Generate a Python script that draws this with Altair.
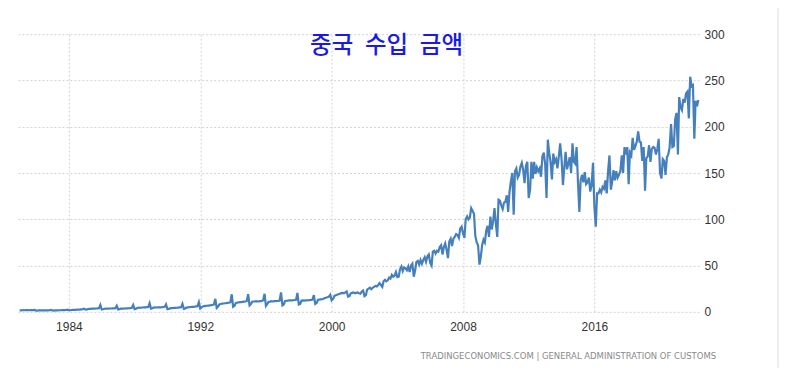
import altair as alt
import pandas as pd

# ---- data (China monthly imports, USD billion), Jan 1981 .. May 2022 ----
start_month = "1981-01-01"
monthly_imports = [
    # 1981
    1.6, 1.5, 1.7, 1.8, 1.7, 1.8, 1.8, 1.7, 1.8, 1.9, 1.9, 2.2,
    # 1982
    1.4, 1.4, 1.5, 1.6, 1.5, 1.6, 1.6, 1.5, 1.6, 1.6, 1.7, 2.0,
    # 1983
    1.5, 1.4, 1.6, 1.7, 1.6, 1.7, 1.7, 1.8, 1.8, 1.9, 2.0, 2.4,
    # 1984
    1.8, 1.7, 2.0, 2.2, 2.1, 2.2, 2.3, 2.4, 2.4, 2.6, 2.8, 3.4,
    # 1985
    2.6, 2.5, 3.0, 3.3, 3.2, 3.4, 3.4, 3.5, 3.6, 3.8, 4.0, 7.5,
    # 1986
    2.5, 2.8, 3.3, 3.5, 3.4, 3.5, 3.6, 3.6, 3.7, 3.8, 4.0, 6.5,
    # 1987
    2.6, 2.9, 3.4, 3.6, 3.5, 3.6, 3.7, 3.8, 3.9, 4.1, 4.3, 7.5,
    # 1988
    2.9, 3.3, 4.2, 4.5, 4.4, 4.6, 4.7, 4.8, 4.9, 5.0, 5.3, 9.3,
    # 1989
    3.5, 3.9, 4.6, 4.8, 4.7, 4.9, 4.8, 4.9, 5.0, 5.2, 5.4, 8.0,
    # 1990
    2.8, 3.2, 3.8, 4.0, 4.1, 4.3, 4.3, 4.4, 4.6, 4.8, 5.0, 8.6,
    # 1991
    3.2, 3.6, 4.6, 4.9, 5.0, 5.2, 5.3, 5.4, 5.6, 5.9, 6.1, 10.5,
    # 1992
    3.6, 4.8, 5.8, 6.2, 6.4, 6.6, 6.8, 6.9, 7.2, 7.5, 8.0, 14.0,
    # 1993
    4.2, 5.6, 8.0, 8.5, 8.8, 9.0, 9.3, 9.4, 9.6, 9.8, 10.5, 19.0,
    # 1994
    5.5, 6.5, 9.5, 10.0, 10.2, 10.5, 10.5, 10.8, 11.0, 11.2, 11.8, 19.0,
    # 1995
    7.0, 8.5, 11.0, 11.2, 11.3, 11.5, 11.2, 11.4, 11.6, 11.8, 12.5, 19.5,
    # 1996
    6.5, 8.5, 10.8, 11.0, 11.5, 11.2, 11.5, 11.6, 11.7, 11.8, 12.2, 21.0,
    # 1997
    7.0, 8.0, 11.5, 12.0, 12.2, 12.3, 12.4, 12.3, 12.5, 12.8, 13.0, 20.5,
    # 1998
    8.0, 8.6, 12.0, 12.3, 12.2, 12.4, 12.3, 12.5, 12.7, 12.8, 13.2, 18.0,
    # 1999
    8.5, 9.5, 12.8, 13.2, 13.5, 13.8, 14.2, 14.8, 15.5, 15.8, 16.5, 18.5,
    # 2000
    12.5, 14.0, 17.0, 18.0, 18.5, 19.0, 19.5, 20.2, 20.5, 20.0, 21.0, 22.0,
    # 2001
    16.5, 17.0, 20.0, 20.5, 21.0, 20.0, 20.5, 21.0, 20.0, 19.5, 22.0, 23.0,
    # 2002
    17.0, 18.0, 24.0, 25.0, 26.0, 24.5, 26.0, 27.0, 28.0, 27.5, 29.0, 31.0,
    # 2003
    29.0, 27.0, 33.0, 34.5, 33.0, 34.0, 37.0, 36.0, 40.0, 38.0, 39.0, 43.0,
    # 2004
    37.5, 38.0, 46.0, 49.0, 44.0, 48.0, 47.0, 45.0, 49.0, 43.0, 50.0, 52.0,
    # 2005
    38.0, 45.0, 54.0, 55.0, 51.0, 56.0, 52.0, 56.0, 59.0, 54.0, 60.0, 62.0,
    # 2006
    53.0, 50.0, 65.0, 66.0, 63.0, 66.0, 65.0, 70.0, 72.0, 62.0, 70.0, 74.0,
    # 2007
    67.0, 58.0, 76.0, 79.0, 71.0, 79.0, 81.0, 84.0, 83.0, 80.0, 90.0, 92.0,
    # 2008
    85.0, 80.0, 100.0, 103.0, 100.0, 102.0, 112.0, 109.0, 106.0, 82.0, 75.0, 72.0,
    # 2009
    51.0, 60.0, 72.0, 78.0, 75.0, 88.0, 93.0, 81.0, 103.0, 89.0, 98.0, 112.0,
    # 2010
    95.0, 81.0, 121.0, 120.0, 115.0, 111.0, 118.0, 119.0, 126.0, 108.0, 130.0, 141.0,
    # 2011
    150.0, 105.0, 152.0, 155.0, 145.0, 148.0, 157.0, 161.0, 153.0, 139.0, 158.0, 162.0,
    # 2012
    123.0, 132.0, 162.0, 144.0, 162.0, 149.0, 156.0, 152.0, 155.0, 146.0, 168.0, 172.0,
    # 2013
    160.0, 123.0, 186.0, 172.0, 162.0, 143.0, 171.0, 162.0, 165.0, 155.0, 168.0, 182.0,
    # 2014
    165.0, 137.0, 155.0, 173.0, 154.0, 160.0, 167.0, 150.0, 182.0, 162.0, 160.0, 178.0,
    # 2015
    140.0, 108.0, 142.0, 148.0, 140.0, 151.0, 138.0, 140.0, 145.0, 130.0, 137.0, 161.0,
    # 2016
    114.0, 92.0, 128.0, 128.0, 132.0, 129.0, 135.0, 133.0, 142.0, 128.0, 152.0, 169.0,
    # 2017
    132.0, 141.0, 153.0, 142.0, 152.0, 145.0, 148.0, 152.0, 169.0, 150.0, 178.0, 170.0,
    # 2018
    178.0, 138.0, 172.0, 169.0, 188.0, 175.0, 179.0, 184.0, 195.0, 184.0, 183.0, 163.0,
    # 2019
    178.0, 131.0, 166.0, 168.0, 180.0, 162.0, 176.0, 178.0, 177.0, 170.0, 176.0, 187.0,
    # 2020
    150.0, 144.0, 165.0, 163.0, 148.0, 167.0, 170.0, 178.0, 203.0, 178.0, 179.0, 208.0,
    # 2021
    215.0, 170.0, 232.0, 221.0, 218.0, 230.0, 226.0, 236.0, 238.0, 209.0, 254.0, 244.0,
    # 2022
    245.0, 187.0, 228.0, 222.0, 229.0,
]
x_tick_years = [1984, 1992, 2000, 2008, 2016]
y_ticks = [0, 50, 100, 150, 200, 250, 300]
title_text = "중국\u2002수입\u2002금액"
source_text = "TRADINGECONOMICS.COM  |  GENERAL  ADMINISTRATION  OF  CUSTOMS"

dates = pd.date_range(start_month, periods=len(monthly_imports), freq="MS")
df = pd.DataFrame({"date": dates, "value": monthly_imports})

W, H = 682, 278
x_scale = alt.Scale(
    domain=[alt.DateTime(year=1980, month=11, date=25), alt.DateTime(year=2022, month=5, date=18)],
    nice=False,
)

line = alt.Chart(df).mark_line(color="#4580bc", strokeWidth=2.2).encode(
    x=alt.X(
        "date:T",
        scale=x_scale,
        axis=alt.Axis(
            values=[alt.DateTime(year=y, month=1, date=1) for y in x_tick_years],
            format="%Y",
            title=None,
            grid=True,
            gridDash=[2, 2],
            gridColor="#d2d2d2",
            ticks=False,
            domain=False,
            labelFontSize=12,
            labelFont="Liberation Sans",
            labelColor="#333333",
            labelPadding=10,
        ),
    ),
    y=alt.Y(
        "value:Q",
        scale=alt.Scale(domain=[0, 300], nice=False),
        axis=alt.Axis(
            orient="right",
            values=y_ticks,
            title=None,
            grid=True,
            gridDash=[2, 2],
            gridColor="#d2d2d2",
            ticks=False,
            domain=False,
            labelFontSize=12,
            labelFont="Liberation Sans",
            labelColor="#333333",
            labelPadding=5,
        ),
    ),
)

title = alt.Chart(pd.DataFrame({"t": [title_text]})).mark_text(
    font="Noto Sans CJK KR", fontSize=23.5, fontWeight=500, color="#1a1ae8",
    align="center", baseline="middle"
).encode(text="t:N", x=alt.value(369), y=alt.value(12))

source = alt.Chart(pd.DataFrame({"t": [source_text]})).mark_text(
    font="DejaVu Sans", fontSize=8.5, color="#8a8a8a", align="right", baseline="middle"
).encode(text="t:N", x=alt.value(699), y=alt.value(322))

border = alt.Chart(pd.DataFrame({"t": [0]})).mark_rule(color="#dcdcdc", strokeWidth=1).encode(
    x=alt.value(761), y=alt.value(-26), y2=alt.value(334)
)

chart = (
    alt.layer(line, title, source, border)
    .properties(
        width=W,
        height=H,
        padding={"left": 10, "top": 26, "right": 80, "bottom": 56},
        autosize=alt.AutoSizeParams(type="none"),
    )
    .configure_view(stroke=None)
)

chart.save("out.html", embed_options={"renderer": "svg", "actions": False})
